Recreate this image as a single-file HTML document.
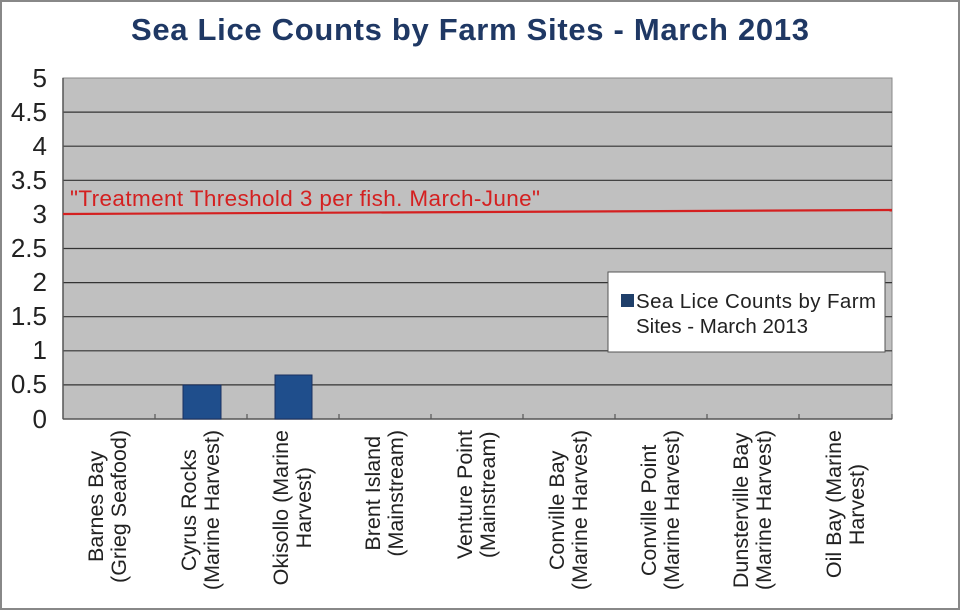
<!DOCTYPE html>
<html><head><meta charset="utf-8"><style>
html,body{margin:0;padding:0;background:#fff}
#c{position:relative;width:960px;height:610px;overflow:hidden;font-family:"Liberation Sans",Arial,sans-serif;}
.xl{position:absolute;top:430px;writing-mode:vertical-rl;transform:translateX(-50%) rotate(180deg);text-align:center;font-size:21.5px;line-height:23px;color:#222;white-space:nowrap}
.yl{position:absolute;right:913px;font-size:26px;color:#222;text-align:right;line-height:26px}
</style></head><body><div id="c">
<svg width="960" height="610" style="position:absolute;left:0;top:0">
<rect x="1" y="1" width="958" height="608" fill="#fff" stroke="#888" stroke-width="2"/>
<rect x="63" y="78" width="829" height="341" fill="#c0c0c0" stroke="#888" stroke-width="1"/>
<g stroke="#333" stroke-width="1.2">
<line x1="63" x2="892" y1="112.1" y2="112.1"/>
<line x1="63" x2="892" y1="146.2" y2="146.2"/>
<line x1="63" x2="892" y1="180.3" y2="180.3"/>
<line x1="63" x2="892" y1="248.5" y2="248.5"/>
<line x1="63" x2="892" y1="282.6" y2="282.6"/>
<line x1="63" x2="892" y1="316.7" y2="316.7"/>
<line x1="63" x2="892" y1="350.8" y2="350.8"/>
<line x1="63" x2="892" y1="384.9" y2="384.9"/>
</g>
<line x1="63" x2="892" y1="419" y2="419" stroke="#555" stroke-width="1.5"/>
<line x1="63" x2="63" y1="78" y2="419" stroke="#555" stroke-width="1.5"/>
<g stroke="#555" stroke-width="1.2">
<line x1="155" x2="155" y1="414" y2="419"/><line x1="247" x2="247" y1="414" y2="419"/>
<line x1="339" x2="339" y1="414" y2="419"/><line x1="431" x2="431" y1="414" y2="419"/>
<line x1="523" x2="523" y1="414" y2="419"/><line x1="615" x2="615" y1="414" y2="419"/>
<line x1="707" x2="707" y1="414" y2="419"/><line x1="799" x2="799" y1="414" y2="419"/>
<line x1="892" x2="892" y1="414" y2="419"/>
</g>
<rect x="183" y="385" width="38" height="34" fill="#1f4e8c" stroke="#1a3060"/>
<rect x="275" y="375" width="37" height="44" fill="#1f4e8c" stroke="#1a3060"/>
<line x1="63" y1="214" x2="892" y2="210" stroke="#d42020" stroke-width="2.2"/>
<text x="70" y="206" fill="#d42020" font-size="22.5" font-family="Liberation Sans, Arial, sans-serif" textLength="470">"Treatment Threshold 3 per fish. March-June"</text>
<rect x="608" y="272" width="277" height="80" fill="#fff" stroke="#555"/>
<rect x="621" y="294" width="13" height="13" fill="#1f3f6a"/>
<text x="636" y="308" font-size="20.5" fill="#222" font-family="Liberation Sans, Arial, sans-serif" textLength="240">Sea Lice Counts by Farm</text>
<text x="636" y="333" font-size="20.5" fill="#222" font-family="Liberation Sans, Arial, sans-serif">Sites - March 2013</text>
<text x="470" y="40" text-anchor="middle" font-size="31" font-weight="bold" fill="#1f3864" font-family="Liberation Sans, Arial, sans-serif" textLength="678">Sea Lice Counts by Farm Sites - March 2013</text>
</svg>
<div class="yl" style="top:65px">5</div>
<div class="yl" style="top:99px">4.5</div>
<div class="yl" style="top:133px">4</div>
<div class="yl" style="top:167px">3.5</div>
<div class="yl" style="top:201px">3</div>
<div class="yl" style="top:235px">2.5</div>
<div class="yl" style="top:269px">2</div>
<div class="yl" style="top:303px">1.5</div>
<div class="yl" style="top:337px">1</div>
<div class="yl" style="top:371px">0.5</div>
<div class="yl" style="top:406px">0</div>
<div class="xl" style="left:108px">Barnes Bay<br>(Grieg Seafood)</div>
<div class="xl" style="left:201px">Cyrus Rocks<br>(Marine Harvest)</div>
<div class="xl" style="left:293px">Okisollo (Marine<br>Harvest)</div>
<div class="xl" style="left:385px">Brent Island<br>(Mainstream)</div>
<div class="xl" style="left:477px">Venture Point<br>(Mainstream)</div>
<div class="xl" style="left:569px">Conville Bay<br>(Marine Harvest)</div>
<div class="xl" style="left:661px">Conville Point<br>(Marine Harvest)</div>
<div class="xl" style="left:753px">Dunsterville Bay<br>(Marine Harvest)</div>
<div class="xl" style="left:846px">Oil Bay (Marine<br>Harvest)</div>
</div></body></html>
